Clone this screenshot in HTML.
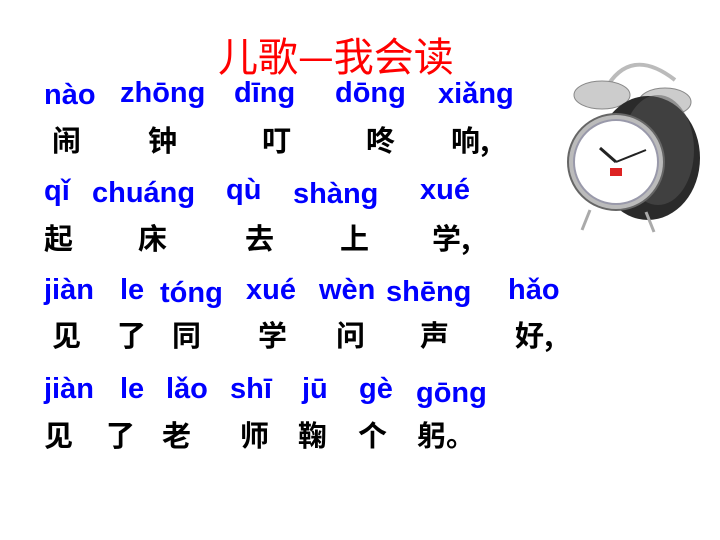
<!DOCTYPE html>
<html><head><meta charset="utf-8"><style>
body{margin:0;width:720px;height:540px;background:#fff;position:relative;overflow:hidden;font-family:"Liberation Sans","Noto Sans CJK SC",sans-serif}
.t{position:absolute;white-space:nowrap;line-height:1}
.p{color:#0000ff;font-weight:bold;font-size:29px}
.h{color:#000;font-weight:bold;font-size:29px;font-family:"Noto Sans CJK SC","WenQuanYi Zen Hei",sans-serif}
</style></head><body>
<div class="t" style="left:218px;top:34px;color:#f00;font-size:40px;font-family:'Noto Sans CJK SC',sans-serif">儿歌—我会读</div>

<div class="t p" style="left:44px;top:81px">nào</div>
<div class="t p" style="left:120px;top:79px">zhōng</div>
<div class="t p" style="left:234px;top:79px">dīng</div>
<div class="t p" style="left:335px;top:79px">dōng</div>
<div class="t p" style="left:438px;top:80px">xiǎng</div>
<div class="t h" style="left:52px;top:125px">闹</div>
<div class="t h" style="left:148px;top:125px">钟</div>
<div class="t h" style="left:262px;top:125px">叮</div>
<div class="t h" style="left:366px;top:125px">咚</div>
<div class="t h" style="left:451px;top:125px">响,</div>

<div class="t p" style="left:44px;top:177px">qǐ</div>
<div class="t p" style="left:92px;top:179px">chuáng</div>
<div class="t p" style="left:226px;top:176px">qù</div>
<div class="t p" style="left:293px;top:180px">shàng</div>
<div class="t p" style="left:420px;top:176px">xué</div>
<div class="t h" style="left:44px;top:223px">起</div>
<div class="t h" style="left:138px;top:223px">床</div>
<div class="t h" style="left:245px;top:223px">去</div>
<div class="t h" style="left:340px;top:223px">上</div>
<div class="t h" style="left:432px;top:223px">学,</div>

<div class="t p" style="left:44px;top:276px">jiàn</div>
<div class="t p" style="left:120px;top:276px">le</div>
<div class="t p" style="left:160px;top:279px">tóng</div>
<div class="t p" style="left:246px;top:276px">xué</div>
<div class="t p" style="left:319px;top:276px">wèn</div>
<div class="t p" style="left:386px;top:278px">shēng</div>
<div class="t p" style="left:508px;top:276px">hǎo</div>
<div class="t h" style="left:52px;top:320px">见</div>
<div class="t h" style="left:117px;top:320px">了</div>
<div class="t h" style="left:172px;top:320px">同</div>
<div class="t h" style="left:258px;top:320px">学</div>
<div class="t h" style="left:336px;top:320px">问</div>
<div class="t h" style="left:420px;top:320px">声</div>
<div class="t h" style="left:515px;top:320px">好,</div>

<div class="t p" style="left:44px;top:375px">jiàn</div>
<div class="t p" style="left:120px;top:375px">le</div>
<div class="t p" style="left:166px;top:375px">lǎo</div>
<div class="t p" style="left:230px;top:375px">shī</div>
<div class="t p" style="left:302px;top:375px">jū</div>
<div class="t p" style="left:359px;top:375px">gè</div>
<div class="t p" style="left:416px;top:379px">gōng</div>
<div class="t h" style="left:44px;top:420px">见</div>
<div class="t h" style="left:106px;top:420px">了</div>
<div class="t h" style="left:162px;top:420px">老</div>
<div class="t h" style="left:240px;top:420px">师</div>
<div class="t h" style="left:298px;top:420px">鞠</div>
<div class="t h" style="left:358px;top:420px">个</div>
<div class="t h" style="left:417px;top:420px">躬。</div>

<svg style="position:absolute;left:560px;top:50px" width="160" height="200" viewBox="0 0 160 200">
<path d="M45 40 Q70 -5 115 30" fill="none" stroke="#bbb" stroke-width="4"/>
<ellipse cx="42" cy="45" rx="28" ry="14" fill="#ccc" stroke="#888"/>
<ellipse cx="105" cy="52" rx="26" ry="14" fill="#ccc" stroke="#888"/>
<ellipse cx="88" cy="108" rx="52" ry="62" fill="#2a2a2a"/>
<ellipse cx="98" cy="100" rx="36" ry="55" fill="#555" opacity=".5"/>
<circle cx="56" cy="112" r="48" fill="#bbb" stroke="#666" stroke-width="2"/>
<circle cx="56" cy="112" r="42" fill="#fff" stroke="#99a" stroke-width="2"/>
<line x1="56" y1="112" x2="40" y2="98" stroke="#222" stroke-width="3"/>
<line x1="56" y1="112" x2="86" y2="100" stroke="#222" stroke-width="2"/>
<rect x="50" y="118" width="12" height="8" fill="#d22"/>
<line x1="30" y1="160" x2="22" y2="180" stroke="#aaa" stroke-width="3"/>
<line x1="86" y1="162" x2="94" y2="182" stroke="#aaa" stroke-width="3"/>
</svg>
</body></html>
